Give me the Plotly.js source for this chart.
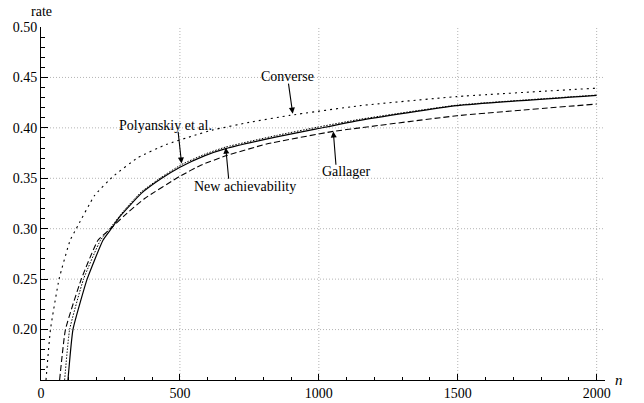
<!DOCTYPE html>
<html>
<head>
<meta charset="utf-8">
<script src="https://cdn.plot.ly/plotly-3.0.1.min.js"></script>
</head>
<body style="margin:0">
<div id="c"></div>
<script>
// Converse bound (dotted)
const nConverse = [18, 34, 65, 105, 127, 193, 260, 349, 451, 553, 619, 750, 896, 1148, 1497, 2000];
const rConverse = [0.15, 0.20, 0.25, 0.2886, 0.30, 0.333, 0.352, 0.3705, 0.3835, 0.3926, 0.398, 0.4055, 0.4124, 0.422, 0.431, 0.4394];
// Polyanskiy et al. (fine dotted)
const nPolyanskiy = [85, 103, 153, 214, 250, 300, 361, 433, 505, 590, 665, 848, 992, 1148, 1497, 2000];
const rPolyanskiy = [0.15, 0.20, 0.25, 0.2886, 0.301, 0.3185, 0.3365, 0.351, 0.3635, 0.374, 0.381, 0.3925, 0.4005, 0.4085, 0.4225, 0.4325];
// New achievability (solid)
const nNew = [97, 115, 166, 223, 253, 283, 361, 433, 500, 590, 665, 848, 992, 1148, 1497, 2000];
const rNew = [0.15, 0.20, 0.25, 0.2886, 0.30, 0.3117, 0.335, 0.3497, 0.361, 0.3725, 0.3794, 0.391, 0.399, 0.4075, 0.422, 0.4322];
// Gallager (dashed)
const nGallager = [67, 88, 145, 205, 250, 300, 373, 500, 575, 668, 812, 1052, 1148, 1497, 2000];
const rGallager = [0.15, 0.20, 0.25, 0.2886, 0.30, 0.313, 0.330, 0.352, 0.363, 0.3725, 0.384, 0.3965, 0.400, 0.412, 0.4236];

const xTickVals = [0, 500, 1000, 1500, 2000];
const xTickText = ['0', '500', '1000', '1500', '2000'];
const yTickVals = [0.20, 0.25, 0.30, 0.35, 0.40, 0.45, 0.50];
const yTickText = ['0.20', '0.25', '0.30', '0.35', '0.40', '0.45', '0.50'];
const xGrid = [500, 1000, 1500, 2000];
const yGrid = [0.20, 0.25, 0.30, 0.35, 0.40, 0.45];

const labelText = ['Converse', 'Polyanskiy et al.', 'New achievability', 'Gallager'];
const labelN = [889, 449, 734, 1100];
const labelR = [0.451, 0.4025, 0.342, 0.357];
const tailN = [890, 493, 676, 1062];
const tailR = [0.4453, 0.3975, 0.348, 0.3619];
const tipN = [906, 506, 665, 1052];
const tipR = [0.4141, 0.3646, 0.3804, 0.3965];

function line(x, y, dash, width) {
  return {x: x, y: y, type: 'scatter', mode: 'lines',
    line: {color: '#000', width: width, dash: dash, shape: 'spline', smoothing: 0.4},
    hoverinfo: 'skip', showlegend: false};
}

const traces = [
  line(nConverse, rConverse, '2px,4px', 1.1),
  line(nPolyanskiy, rPolyanskiy, '1.5px,1.5px', 1.0),
  line(nNew, rNew, 'solid', 1.2),
  line(nGallager, rGallager, '6px,3px', 1.1)
];

const shapes = [];
xGrid.forEach(v => shapes.push({type: 'line', xref: 'x', yref: 'paper', x0: v, x1: v, y0: 0, y1: 1,
  line: {color: '#b4b4b4', width: 1, dash: '1px,2px'}, layer: 'below'}));
yGrid.forEach(v => shapes.push({type: 'line', xref: 'paper', yref: 'y', x0: 0, x1: 1, y0: v, y1: v,
  line: {color: '#b4b4b4', width: 1, dash: '1px,2px'}, layer: 'below'}));

const annotations = [];
for (let i = 0; i < labelText.length; i++) {
  annotations.push({x: labelN[i], y: labelR[i], xref: 'x', yref: 'y', text: labelText[i], showarrow: false,
    font: {size: 14}, xanchor: 'center', yanchor: 'middle'});
  annotations.push({x: tipN[i], y: tipR[i], xref: 'x', yref: 'y', ax: tailN[i], ay: tailR[i], axref: 'x', ayref: 'y',
    text: '', showarrow: true, arrowhead: 2, arrowsize: 1.1, arrowwidth: 1.1, arrowcolor: '#000', standoff: 0});
}
annotations.push({xref: 'paper', yref: 'paper', x: 0, y: 1, yshift: 6, text: 'rate', showarrow: false,
  xanchor: 'center', yanchor: 'bottom', font: {size: 14}});
annotations.push({xref: 'paper', yref: 'paper', x: 1, y: 0, xshift: 8, text: '<i>n</i>', showarrow: false,
  xanchor: 'left', yanchor: 'middle', font: {size: 15}});

const layout = {
  width: 644, height: 403,
  margin: {l: 41, r: 39, t: 27, b: 23, pad: 0},
  font: {family: 'Liberation Serif', size: 14, color: '#000'},
  xaxis: {range: [0, 2030], tickvals: xTickVals, ticktext: xTickText, ticks: 'inside', ticklen: 6, tickwidth: 1,
    tickcolor: '#000', showline: true, linecolor: '#000', linewidth: 1, showgrid: false, zeroline: false,
    minor: {dtick: 100, tick0: 0, ticks: 'inside', ticklen: 3.5, tickwidth: 1, tickcolor: '#000', showgrid: false}},
  yaxis: {range: [0.15, 0.5], tickvals: yTickVals, ticktext: yTickText, ticks: 'inside', ticklen: 7, tickwidth: 1,
    tickcolor: '#000', showline: true, linecolor: '#000', linewidth: 1, showgrid: false, zeroline: false,
    minor: {dtick: 0.01, tick0: 0.15, ticks: 'inside', ticklen: 4, tickwidth: 1, tickcolor: '#000', showgrid: false}},
  shapes: shapes,
  annotations: annotations
};

Plotly.newPlot('c', traces, layout, {staticPlot: true});
</script>
</body>
</html>
